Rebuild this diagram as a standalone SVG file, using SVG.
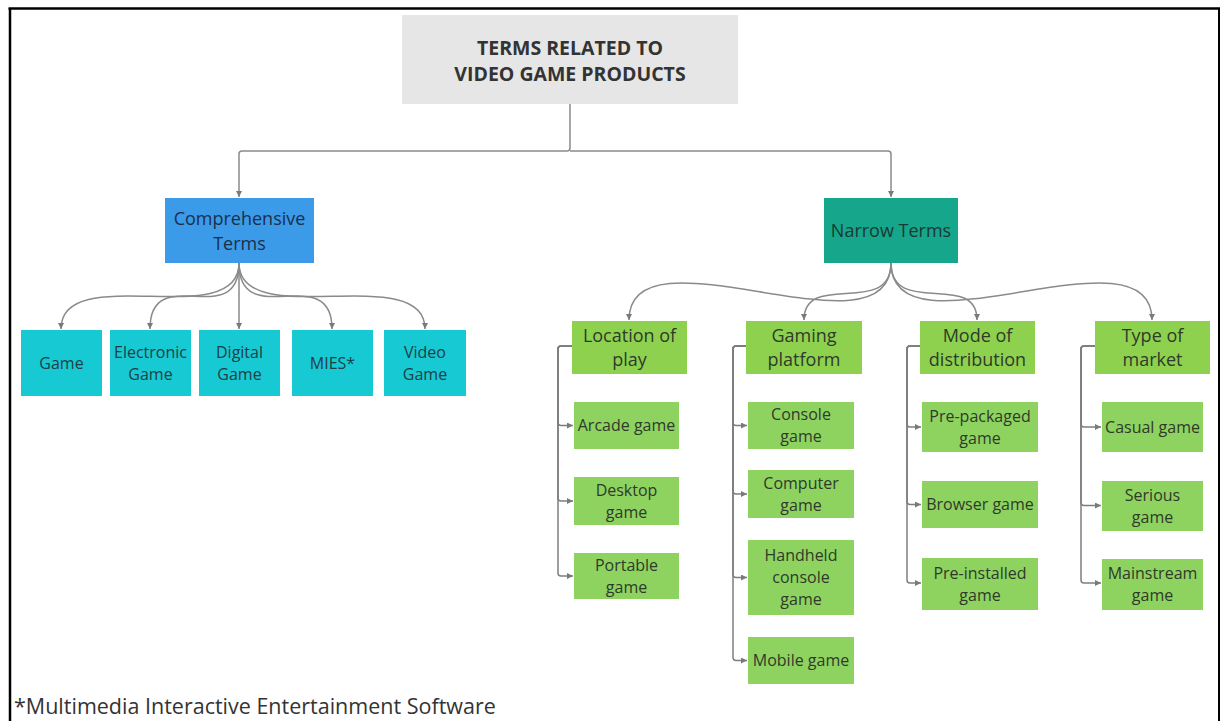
<svg xmlns="http://www.w3.org/2000/svg" width="1221" height="721" viewBox="0 0 1221 721">
<defs>
<marker id="arr" viewBox="0 0 6 6" refX="6" refY="3" markerWidth="6" markerHeight="6" markerUnits="userSpaceOnUse" orient="auto">
<path d="M0,0 L6,3 L0,6 z" fill="#7a7a7a"/>
</marker>
<style>
.t{font-family:"Open Sans","Liberation Sans",sans-serif;text-anchor:middle}
.c{fill:none;stroke:#8a8a8a;stroke-width:1.5;marker-end:url(#arr)}
.b{fill:none;stroke:#7d7d7d;stroke-width:1.5;marker-end:url(#arr)}
.g rect{fill:#8ed260}
.g text{font-size:16px;fill:#2e3a2a}
.l2 rect{fill:#8ed14f}
.l2 text{font-size:18px;fill:#2e3a2a}
.cy rect{fill:#17c9d3}
.cy text{font-size:16px;fill:#1f3f45}
</style>
</defs>
<rect x="0" y="0" width="1221" height="721" fill="#fff"/>
<g id="frame" stroke="#000" fill="none">
<line x1="8.5" y1="8.5" x2="1220" y2="8.5" stroke-width="2.5"/>
<line x1="10" y1="8" x2="10" y2="721" stroke-width="2.5"/>
<line x1="1219" y1="8" x2="1219" y2="721" stroke-width="2"/>
</g>

<g id="connectors">
<path class="c" d="M570,104 V148 Q570,151 567,151 H242 Q239,151 239,154 V197"/>
<path class="c" d="M570,151 H888 Q891,151 891,154 V197"/>
<path class="c" d="M239,263 C239,333 61,260 61,329"/>
<path class="c" d="M239,263 C239,333 150,260 150,329"/>
<path class="c" d="M239,263 V329"/>
<path class="c" d="M239,263 C239,333 332,260 332,329"/>
<path class="c" d="M239,263 C239,333 425,260 425,329"/>
<path class="c" d="M891,263 C891,363 629,221 629,320"/>
<path class="c" d="M891,263 C891,318 804,270 804,320"/>
<path class="c" d="M891,263 C891,318 977,270 977,320"/>
<path class="c" d="M891,263 C891,363 1152,221 1152,320"/>
<path class="b" d="M572,346 H561 Q558,346 558,349 V422 Q558,425.5 561,425.5 H573"/>
<path class="b" d="M572,346 H561 Q558,346 558,349 V498 Q558,501 561,501 H573"/>
<path class="b" d="M572,346 H561 Q558,346 558,349 V573 Q558,576 561,576 H573"/>
<path class="b" d="M746,346 H736 Q733,346 733,349 V422 Q733,425.5 736,425.5 H747"/>
<path class="b" d="M746,346 H736 Q733,346 733,349 V491 Q733,494 736,494 H747"/>
<path class="b" d="M746,346 H736 Q733,346 733,349 V574 Q733,577.5 736,577.5 H747"/>
<path class="b" d="M746,346 H736 Q733,346 733,349 V657 Q733,660.5 736,660.5 H747"/>
<path class="b" d="M920,346 H910 Q907,346 907,349 V424 Q907,427 910,427 H921"/>
<path class="b" d="M920,346 H910 Q907,346 907,349 V501 Q907,504.5 910,504.5 H921"/>
<path class="b" d="M920,346 H910 Q907,346 907,349 V580 Q907,583 910,583 H921"/>
<path class="b" d="M1095,346 H1084 Q1081,346 1081,349 V424 Q1081,427 1084,427 H1101"/>
<path class="b" d="M1095,346 H1084 Q1081,346 1081,349 V502 Q1081,505.5 1084,505.5 H1101"/>
<path class="b" d="M1095,346 H1084 Q1081,346 1081,349 V580 Q1081,583 1084,583 H1101"/>
</g>

<g id="root">
<rect x="402" y="15" width="336" height="89" fill="#e6e6e6"/>
<text class="t" x="570" y="55" font-size="19.5" font-weight="bold" fill="#333">TERMS RELATED TO</text>
<text class="t" x="570" y="81" font-size="19.5" font-weight="bold" fill="#333">VIDEO GAME PRODUCTS</text>
</g>

<g id="comprehensive">
<rect x="165" y="198" width="149" height="65" fill="#3b9be9"/>
<text class="t" x="239.5" y="225" font-size="18" fill="#1c2f4a">Comprehensive</text>
<text class="t" x="239.5" y="250" font-size="18" fill="#1c2f4a">Terms</text>
</g>

<g id="narrow">
<rect x="824" y="198" width="134" height="65" fill="#15a68b"/>
<text class="t" x="891" y="237" font-size="18" fill="#1a3a33">Narrow Terms</text>
</g>

<g id="game" class="cy"><rect x="21" y="330" width="81" height="66"/><text class="t" x="61.5" y="368.5">Game</text></g>
<g id="electronic-game" class="cy"><rect x="110" y="330" width="81" height="66"/><text class="t" x="150.5" y="357.5">Electronic</text><text class="t" x="150.5" y="379.5">Game</text></g>
<g id="digital-game" class="cy"><rect x="199" y="330" width="81" height="66"/><text class="t" x="239.5" y="357.5">Digital</text><text class="t" x="239.5" y="379.5">Game</text></g>
<g id="mies" class="cy"><rect x="292" y="330" width="81" height="66"/><text class="t" x="332.5" y="368.5">MIES*</text></g>
<g id="video-game" class="cy"><rect x="384" y="330" width="82" height="66"/><text class="t" x="425" y="357.5">Video</text><text class="t" x="425" y="379.5">Game</text></g>

<g id="location" class="l2"><rect x="572" y="321" width="115" height="53"/><text class="t" x="629.5" y="342">Location of</text><text class="t" x="629.5" y="366">play</text></g>
<g id="platform" class="l2"><rect x="746" y="321" width="116" height="53"/><text class="t" x="804" y="342">Gaming</text><text class="t" x="804" y="366">platform</text></g>
<g id="distribution" class="l2"><rect x="920" y="321" width="115" height="53"/><text class="t" x="977.5" y="342">Mode of</text><text class="t" x="977.5" y="366">distribution</text></g>
<g id="market" class="l2"><rect x="1095" y="321" width="115" height="53"/><text class="t" x="1152.5" y="342">Type of</text><text class="t" x="1152.5" y="366">market</text></g>

<g id="arcade" class="g"><rect x="574" y="402" width="105" height="47"/><text class="t" x="626.5" y="431">Arcade game</text></g>
<g id="desktop" class="g"><rect x="574" y="477" width="105" height="48"/><text class="t" x="626.5" y="495.5">Desktop</text><text class="t" x="626.5" y="517.5">game</text></g>
<g id="portable" class="g"><rect x="574" y="553" width="105" height="46"/><text class="t" x="626.5" y="570.5">Portable</text><text class="t" x="626.5" y="592.5">game</text></g>

<g id="console" class="g"><rect x="748" y="402" width="106" height="47"/><text class="t" x="801" y="420">Console</text><text class="t" x="801" y="442">game</text></g>
<g id="computer" class="g"><rect x="748" y="470" width="106" height="48"/><text class="t" x="801" y="488.5">Computer</text><text class="t" x="801" y="510.5">game</text></g>
<g id="handheld" class="g"><rect x="748" y="540" width="106" height="75"/><text class="t" x="801" y="561">Handheld</text><text class="t" x="801" y="583">console</text><text class="t" x="801" y="605">game</text></g>
<g id="mobile" class="g"><rect x="748" y="637" width="106" height="47"/><text class="t" x="801" y="666">Mobile game</text></g>

<g id="prepackaged" class="g"><rect x="922" y="402" width="116" height="50"/><text class="t" x="980" y="421.5">Pre-packaged</text><text class="t" x="980" y="443.5">game</text></g>
<g id="browser" class="g"><rect x="922" y="481" width="116" height="47"/><text class="t" x="980" y="510">Browser game</text></g>
<g id="preinstalled" class="g"><rect x="922" y="558" width="116" height="52"/><text class="t" x="980" y="578.5">Pre-installed</text><text class="t" x="980" y="600.5">game</text></g>

<g id="casual" class="g"><rect x="1102" y="402" width="101" height="50"/><text class="t" x="1152.5" y="432.5">Casual game</text></g>
<g id="serious" class="g"><rect x="1102" y="481" width="101" height="50"/><text class="t" x="1152.5" y="500.5">Serious</text><text class="t" x="1152.5" y="522.5">game</text></g>
<g id="mainstream" class="g"><rect x="1102" y="559" width="101" height="51"/><text class="t" x="1152.5" y="579">Mainstream</text><text class="t" x="1152.5" y="601">game</text></g>

<text id="footnote" x="14" y="714" font-family="'Open Sans','Liberation Sans',sans-serif" font-size="21.5" fill="#333">*Multimedia Interactive Entertainment Software</text>
</svg>
